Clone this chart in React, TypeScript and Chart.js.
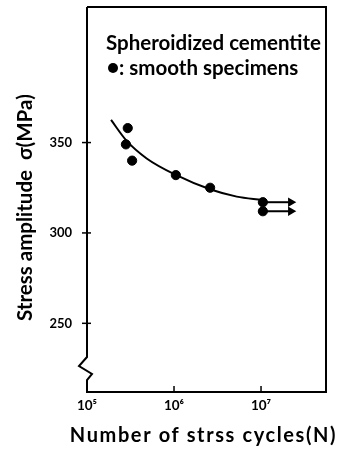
import { useEffect, useRef } from 'react';
import { Chart, registerables } from 'chart.js';

Chart.register(...registerables);

// Measured specimens (cycles N, stress amplitude MPa)
const specimenCycles = [2.94e5, 2.8e5, 3.3e5, 1.05e6, 2.6e6, 1.05e7, 1.05e7];
const specimenStress = [358, 349, 340, 332, 325, 317, 312];

// Fitted S-N curve
const curveCycles = [1.89e5, 2.86e5, 4.85e5, 1.05e6, 2.64e6, 5.26e6, 1.02e7];
const curveStress = [362.5, 350.9, 341.2, 332.1, 324.0, 320.1, 318.3];

// Run-out arrows (did not fail)
const runoutStart = 1.05e7;
const runoutEnd = 2.2e7;
const runoutStress = [317, 312];

// Axes
const xMin = 1e5;
const xMax = 5.58e7;
const yMin = 212;
const yMax = 425;
const xTickValues = [1e5, 1e6, 1e7];
const xTickLabels = ['10⁵', '10⁶', '10⁷'];
const yTickValues = [250, 300, 350];
const yTickLabels = ['250', '300', '350'];

const legendLine1 = 'Spheroidized cementite';
const legendLine2 = ': smooth specimens';
const xTitle = 'Number of strss cycles(N)';
const yTitle = 'Stress amplitude  σ(MPa)';

const FONT = 'Lato, "DejaVu Sans", sans-serif';

const framePlugin = {
  id: 'frame',
  afterDraw(chart: any) {
    const { ctx, chartArea } = chart;
    const { left, right, top, bottom } = chartArea;
    const xs = chart.scales.x;
    const ys = chart.scales.y;
    ctx.save();
    ctx.strokeStyle = '#000';
    ctx.lineWidth = 2;
    ctx.lineJoin = 'miter';
    // top, right, bottom
    ctx.beginPath();
    ctx.moveTo(left, top);
    ctx.lineTo(right, top);
    ctx.lineTo(right, bottom);
    ctx.lineTo(left - 1, bottom);
    ctx.stroke();
    // left axis with break symbol
    ctx.beginPath();
    ctx.moveTo(left, top);
    ctx.lineTo(left, bottom - 35);
    ctx.lineTo(left - 8, bottom - 26);
    ctx.lineTo(left + 5, bottom - 18);
    ctx.lineTo(left, bottom - 12);
    ctx.lineTo(left, bottom);
    ctx.stroke();
    // y ticks crossing the axis
    ctx.lineWidth = 1.5;
    yTickValues.forEach((v) => {
      const y = ys.getPixelForValue(v);
      ctx.beginPath();
      ctx.moveTo(left - 5, y);
      ctx.lineTo(left + 4, y);
      ctx.stroke();
    });
    // x ticks pointing inward
    xTickValues.forEach((v) => {
      const x = xs.getPixelForValue(v);
      ctx.beginPath();
      ctx.moveTo(x, bottom);
      ctx.lineTo(x, bottom - 6);
      ctx.stroke();
    });
    // legend text
    ctx.fillStyle = '#000';
    ctx.font = `bold 20.5px ${FONT}`;
    ctx.textAlign = 'left';
    ctx.textBaseline = 'alphabetic';
    ctx.fillText(legendLine1, left + 19, top + 43);
    ctx.beginPath();
    ctx.arc(left + 26, top + 61, 5, 0, Math.PI * 2);
    ctx.fill();
    ctx.fillText(legendLine2, left + 32, top + 68);

    // axis titles
    ctx.font = `bold 20px ${FONT}`;
    ctx.textAlign = 'center';
    (ctx as any).letterSpacing = '1.6px';
    ctx.fillText(xTitle, (left + right) / 2 - 3, bottom + 50);
    (ctx as any).letterSpacing = '0px';
    ctx.font = `bold 20.5px ${FONT}`;
    ctx.translate(left - 62, (top + bottom) / 2 + 8);
    ctx.rotate(-Math.PI / 2);
    ctx.textBaseline = 'middle';
    ctx.fillText(yTitle, 0, 0);
    ctx.restore();
  },
};

export default function App() {
  const canvasRef = useRef<HTMLCanvasElement | null>(null);

  useEffect(() => {
    if (!canvasRef.current) return;
    const pts = specimenCycles.map((n, i) => ({ x: n, y: specimenStress[i] }));
    const curve = curveCycles.map((n, i) => ({ x: n, y: curveStress[i] }));
    const arrowSets = runoutStress.map((s) => ({
      type: 'line' as const,
      data: [
        { x: runoutStart, y: s },
        { x: runoutEnd, y: s },
      ],
      borderColor: '#000',
      backgroundColor: '#000',
      borderWidth: 2,
      pointRadius: [0, 3.5],
      pointStyle: 'triangle',
      rotation: 90,
      showLine: true,
    }));

    const chart = new Chart(canvasRef.current, {
      type: 'scatter',
      data: {
        datasets: [
          {
            data: curve,
            showLine: true,
            borderColor: '#000',
            borderWidth: 2,
            pointRadius: 0,
            cubicInterpolationMode: 'monotone',
          } as any,
          {
            data: pts,
            showLine: false,
            pointRadius: 4.6,
            backgroundColor: '#000',
            borderColor: '#000',
          },
          ...arrowSets,
        ],
      },
      options: {
        animation: false,
        responsive: true,
        maintainAspectRatio: false,
        layout: { padding: { top: 7, right: 14, left: 0, bottom: 0 } },
        plugins: {
          legend: { display: false },
          tooltip: { enabled: false },
        },
        scales: {
          x: {
            type: 'logarithmic',
            min: xMin,
            max: xMax,
            afterBuildTicks: (scale: any) => {
              scale.ticks = xTickValues.map((v) => ({ value: v }));
            },
            afterFit: (scale: any) => {
              scale.height = 58;
              scale.paddingLeft = 0;
              scale.paddingRight = 0;
            },
            grid: { display: false, drawTicks: false },
            border: { display: false },
            ticks: {
              autoSkip: false,
              maxRotation: 0,
              padding: 6,
              color: '#000',
              font: { family: FONT, size: 13.5, weight: 'bold' },
              callback: (v: any) => {
                const i = xTickValues.indexOf(Number(v));
                return i >= 0 ? xTickLabels[i] : '';
              },
            },
            title: { display: false },
          },
          y: {
            type: 'linear',
            min: yMin,
            max: yMax,
            afterBuildTicks: (scale: any) => {
              scale.ticks = yTickValues.map((v) => ({ value: v }));
            },
            afterFit: (scale: any) => {
              scale.width = 87;
              scale.paddingTop = 0;
              scale.paddingBottom = 0;
            },
            grid: { display: false, drawTicks: false },
            border: { display: false },
            ticks: {
              padding: 15,
              color: '#000',
              font: { family: FONT, size: 13, weight: 'bold' },
              callback: (v: any) => {
                const i = yTickValues.indexOf(Number(v));
                return i >= 0 ? yTickLabels[i] : '';
              },
            },
            title: { display: false },
          },
        },
      } as any,
      plugins: [framePlugin],
    });
    return () => chart.destroy();
  }, []);

  return (
    <div style={{ position: 'absolute', left: 0, top: 0, width: 340, height: 450, background: '#fff' }}>
      <canvas ref={canvasRef} />
    </div>
  );
}
